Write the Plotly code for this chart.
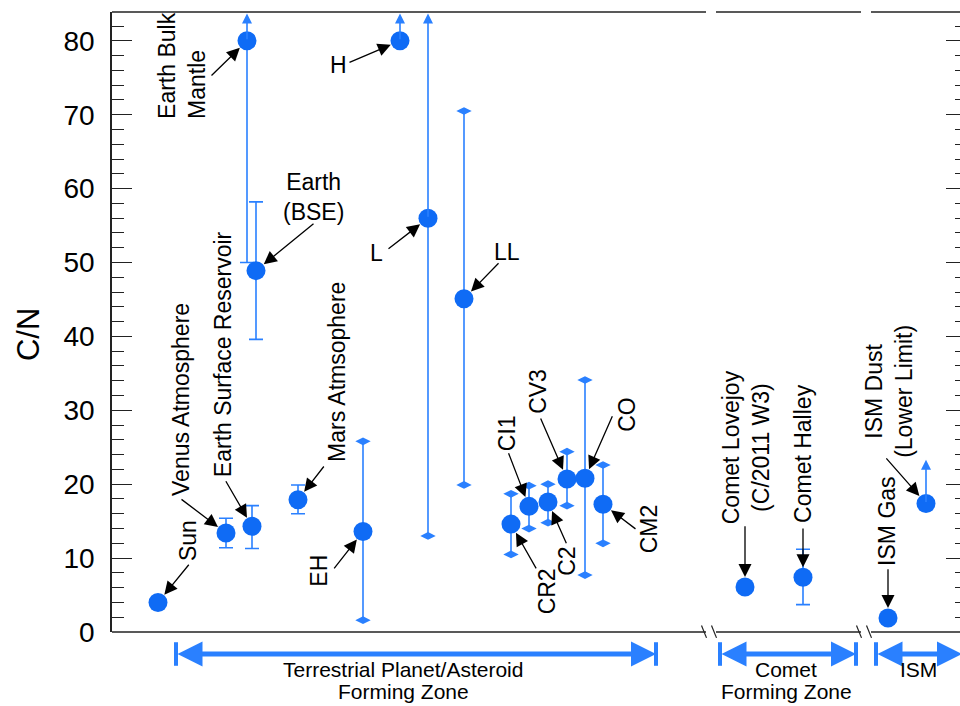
import plotly.graph_objects as go

# ---------------- data ----------------
names = ["Sun", "Venus Atmosphere", "Earth Bulk Mantle", "Earth Surface Reservoir",
         "Earth (BSE)", "Mars Atmsophere", "EH", "H", "L", "LL",
         "CR2", "CI1", "C2", "CV3", "CO", "CM2",
         "Comet Lovejoy", "Comet Halley", "ISM Gas", "ISM Dust"]
x_pos = [0.46, 1.14, 1.35, 1.40, 1.44, 1.86, 2.51, 2.88, 3.16, 3.52,
         3.99, 4.17, 4.36, 4.55, 4.73, 4.91, 6.33, 6.91, 7.76, 8.14]
cn_value = [4.0, 13.4, 80.0, 14.3, 48.9, 17.9, 13.6, 80.0, 56.0, 45.1,
            14.6, 17.0, 17.6, 20.7, 20.8, 17.3, 6.1, 7.4, 1.9, 17.4]
range_low = [None, 11.4, 50.0, 11.3, 39.6, 16.0, 1.6, None, 13.0, 19.9,
             10.5, 14.0, 14.8, 17.1, 7.7, 12.0, 5.5, 3.7, None, None]
range_high = [None, 15.4, None, 17.1, 58.2, 19.9, 25.8, None, None, 70.5,
              18.7, 19.8, 20.0, 24.4, 34.1, 22.6, 6.7, 11.2, None, None]
cap_style = ["", "T", "T", "T", "T", "T", "diamond", "", "diamond", "diamond",
             "diamond", "diamond", "diamond", "diamond", "diamond", "diamond",
             "T", "T", "", ""]
# lower limits: arrow drawn upward to this value ("top" = off the axis)
limit_to = [None, None, "top", None, None, None, None, "top", "top", None,
            None, None, None, None, None, None, None, None, None, 23.3]

# labels (same order as names)
label_text = ["Sun", "Venus Atmosphere", "Earth Bulk<br>Mantle", "Earth Surface Reservoir",
              "Earth<br>(BSE)", "Mars Atmsophere", "EH", "H", "L", "LL",
              "CR2", "CI1", "C2", "CV3", "CO", "CM2",
              "Comet Lovejoy<br>(C/2011 W3)", "Comet Halley", "ISM Gas",
              "ISM Dust<br>(Lower Limit)"]
label_x = [0.76, 0.69, 0.70, 1.11, 2.01, 2.25, 2.07, 2.26, 2.64, 3.95,
           4.35, 3.95, 4.55, 4.26, 5.15, 5.37, 6.34, 6.91, 7.75, 7.77]
label_y = [12.3, 31.4, 76.6, 37.6, 58.9, 35.2, 8.3, 76.75, 51.3, 51.4,
           5.5, 26.9, 9.5, 32.5, 29.4, 13.9, 25.0, 24.1, 14.9, 32.5]
label_angle = [-90, -90, -90, -90, 0, -90, -90, 0, 0, 0,
               -90, -90, -90, -90, -90, -90, -90, -90, -90, -90]
label_align = ["center", "center", "left", "center", "center", "center", "center",
               "center", "center", "center", "center", "center", "center", "center",
               "center", "center", "center", "center", "center", "center"]
tail_x = [0.78, 0.68, 0.98, 1.13, 2.03, 2.13, 2.21, 2.36, 2.75, 3.88,
          4.25, 3.96, 4.55, 4.28, 5.01, 5.25, 6.33, 6.91, 7.76, 7.73]
tail_y = [9.3, 18.1, 75.1, 20.6, 55.4, 22.6, 8.4, 77.0, 51.7, 50.1,
          8.4, 24.4, 11.8, 29.1, 29.4, 13.8, 14.5, 14.2, 8.7, 23.7]

# forming zones under the axis
zone_line1 = ["Terrestrial Planet/Asteroid", "Comet", "ISM"]
zone_line2 = ["Forming Zone", "Forming Zone", ""]
zone_x0 = [0.64, 6.08, 7.64]
zone_x1 = [5.44, 7.44, 8.50]
zone_text_x = [2.91, 6.74, 8.06]

# axis breaks (x positions of the gaps)
break_gaps = [(5.94, 6.04), (7.49, 7.59)]

Y_MAX = 83.9
Y_TOP_ARROW = 83.7
X_MAX = 8.48

BLUE = "#0f6bf5"
BAR_BLUE = "#2a80ff"
AX = "#222222"
FONT = "Liberation Sans, Arial, Helvetica, sans-serif"

fig = go.Figure()

# error bars: T caps and plain (diamond caps added separately)
for style, capw in (("T", 7), ("diamond", 0)):
    idx = [i for i, s in enumerate(cap_style) if s == style]
    xs = [x_pos[i] for i in idx]
    ys = [cn_value[i] for i in idx]
    plus = [(range_high[i] - cn_value[i]) if range_high[i] is not None else 0 for i in idx]
    minus = [(cn_value[i] - range_low[i]) if range_low[i] is not None else 0 for i in idx]
    fig.add_trace(go.Scatter(
        x=xs, y=ys, mode="markers",
        marker=dict(size=1, color="rgba(0,0,0,0)"),
        error_y=dict(type="data", symmetric=False, array=plus, arrayminus=minus,
                     color=BAR_BLUE, thickness=1.6, width=capw),
        showlegend=False, hoverinfo="skip"))

# diamond caps
dx, dy = [], []
for i, s in enumerate(cap_style):
    if s == "diamond":
        for v in (range_low[i], range_high[i]):
            if v is not None:
                dx.append(x_pos[i])
                dy.append(v)
fig.add_trace(go.Scatter(x=dx, y=dy, mode="markers",
                         marker=dict(symbol="diamond-wide", size=11, color=BAR_BLUE,
                                     line=dict(width=0)),
                         showlegend=False, hoverinfo="skip"))

# data points
fig.add_trace(go.Scatter(x=x_pos, y=cn_value, mode="markers", text=names,
                         marker=dict(size=19, color=BLUE, line=dict(width=0)),
                         showlegend=False, hovertemplate="%{text}: %{y}<extra></extra>"))

# invisible trace for right tick axis
fig.add_trace(go.Scatter(x=[0], y=[0], yaxis="y2", mode="markers",
                         marker=dict(size=1, color="rgba(0,0,0,0)"),
                         showlegend=False, hoverinfo="skip"))

annotations = []
# lower-limit arrows
for i, lim in enumerate(limit_to):
    if lim is None:
        continue
    top = Y_TOP_ARROW if lim == "top" else lim
    annotations.append(dict(x=x_pos[i], y=top, xref="x", yref="y",
                            ax=x_pos[i], ay=cn_value[i], axref="x", ayref="y",
                            text="", showarrow=True, arrowhead=2, arrowsize=1.25,
                            arrowwidth=1.6, arrowcolor=BAR_BLUE, standoff=0))

# labels and pointer arrows
for i in range(len(names)):
    annotations.append(dict(x=label_x[i], y=label_y[i], xref="x", yref="y",
                            text=label_text[i], textangle=label_angle[i],
                            align=label_align[i], showarrow=False,
                            xanchor="center", yanchor="middle",
                            font=dict(family=FONT, size=23, color="black")))
    annotations.append(dict(x=x_pos[i], y=cn_value[i], xref="x", yref="y",
                            ax=tail_x[i], ay=tail_y[i], axref="x", ayref="y",
                            text="", showarrow=True, arrowhead=2, arrowsize=2.0,
                            arrowwidth=1.3, arrowcolor="black", standoff=10))

# zones
shapes = []
ZONE_Y = -0.0355
for i in range(len(zone_line1)):
    annotations.append(dict(x=zone_x1[i], y=ZONE_Y, xref="x", yref="paper",
                            ax=zone_x0[i], ay=0, axref="x", ayref="pixel",
                            text="", showarrow=True, arrowhead=2, arrowsize=1,
                            startarrowhead=2, startarrowsize=1, arrowside="end+start",
                            arrowwidth=5, arrowcolor=BAR_BLUE, standoff=0, startstandoff=0))
    for xx in (zone_x0[i], zone_x1[i]):
        shapes.append(dict(type="line", xref="x", yref="paper", x0=xx, x1=xx,
                           y0=-0.0165, y1=-0.0545, line=dict(color=BAR_BLUE, width=4)))
    annotations.append(dict(x=zone_text_x[i], y=-0.060, xref="x", yref="paper",
                            text=zone_line1[i], showarrow=False, xanchor="center",
                            yanchor="middle", font=dict(family=FONT, size=21, color="black")))
    if zone_line2[i]:
        annotations.append(dict(x=zone_text_x[i], y=-0.0965, xref="x", yref="paper",
                                text=zone_line2[i], showarrow=False, xanchor="center",
                                yanchor="middle", font=dict(family=FONT, size=21, color="black")))

# axis title
annotations.append(dict(x=-0.099, y=0.479, xref="paper", yref="paper", text="C/N",
                        textangle=-90, showarrow=False, xanchor="center", yanchor="middle",
                        font=dict(family=FONT, size=31, color="black")))

# broken top/bottom axis lines
edges = [0] + [v for g in break_gaps for v in g] + [X_MAX]
for k in range(0, len(edges), 2):
    for yy in (0, 1):
        shapes.append(dict(type="line", xref="x", yref="paper", x0=edges[k], x1=edges[k + 1],
                           y0=yy, y1=yy, line=dict(color=AX, width=1.5)))
# break marks on the bottom axis
for g0, g1 in break_gaps:
    for xb in (g0, g1):
        shapes.append(dict(type="line", xref="x", yref="paper", x0=xb - 0.045, x1=xb + 0.005,
                           y0=0.0105, y1=-0.0095, line=dict(color=AX, width=1.2)))

fig.update_layout(
    width=960, height=706,
    margin=dict(l=112, r=0, t=12, b=74),
    paper_bgcolor="white", plot_bgcolor="white",
    font=dict(family=FONT, color="black"),
    xaxis=dict(range=[0, X_MAX], showline=False, showgrid=False, zeroline=False,
               showticklabels=False, ticks="", fixedrange=True),
    yaxis=dict(range=[0, Y_MAX], showgrid=False, zeroline=False, showline=True,
               linecolor=AX, linewidth=1.5, ticks="inside", ticklen=20, tickwidth=1.3,
               tickcolor=AX, tick0=0, dtick=10,
               minor=dict(ticks="inside", ticklen=12, dtick=2, tickcolor=AX, tickwidth=1.2),
               tickfont=dict(family=FONT, size=28, color="black"),
               ticklabelstandoff=10, automargin=False),
    yaxis2=dict(range=[0, Y_MAX], overlaying="y", side="right", anchor="x",
                showgrid=False, zeroline=False, showline=False, showticklabels=False,
                ticks="inside", ticklen=14, tickwidth=1.3, tickcolor=AX, tick0=0, dtick=10,
                minor=dict(ticks="inside", ticklen=5, dtick=2, tickcolor=AX, tickwidth=1.2),
                automargin=False),
    annotations=annotations,
    shapes=shapes,
    showlegend=False,
)

fig.write_html("out.html", config={"displayModeBar": False},
               post_script="document.body.style.margin='0px';document.body.style.overflow='hidden';")
